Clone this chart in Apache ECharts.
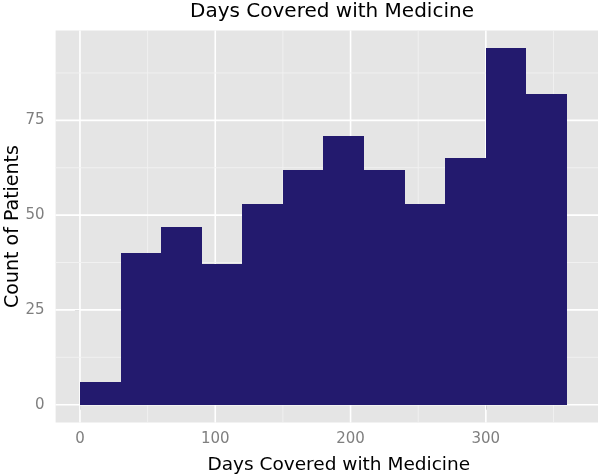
<!DOCTYPE html>
<html>
<head>
<meta charset="utf-8">
<script src="https://cdn.jsdelivr.net/npm/echarts@6.0.0/dist/echarts.min.js"></script>
<style>
    html, body { margin: 0; padding: 0; background: #fff; }
    #main { width: 600px; height: 475px; }
</style>
</head>
<body>
<div id="main"></div>
<script>
// histogram bins (days) and patient counts per bin
const binEdges = [0, 30, 60, 90, 120, 150, 180, 210, 240, 270, 300, 330, 360];
const counts = [6, 40, 47, 37, 53, 62, 71, 62, 53, 65, 94, 82];

// axis ticks and grid lines
const xTicks = [0, 100, 200, 300];
const xMinor = [50, 150, 250, 350];
const yTicks = [0, 25, 50, 75];
const yMinor = [12.5, 37.5, 62.5, 87.5];

const font = 'DejaVu Sans';
const barColor = '#231a6e';

let myChart = echarts.init(document.getElementById('main'), null, { renderer: 'canvas' });

// bars built from bin edges
let barData = counts.map((c, i) => [binEdges[i], binEdges[i + 1], c]);

let vLines = xTicks.map(v => [v, 1]).concat(xMinor.map(v => [v, 0]));
let hLines = yTicks.map(v => [v, 1]).concat(yMinor.map(v => [v, 0]));

function lineStyleFor(major) {
    return major
        ? { stroke: '#ffffff', lineWidth: 1.6 }
        : { stroke: '#f2f2f2', lineWidth: 0.9 };
}

let option = {
    animation: false,
    backgroundColor: '#ffffff',
    title: {
        text: 'Days Covered with Medicine',
        left: 332,
        top: 2,
        padding: 0,
        textAlign: 'center',
        textStyle: { fontFamily: font, fontSize: 20, fontWeight: 'normal', color: '#000' }
    },
    grid: {
        left: 55.6,
        right: 2,
        top: 30.5,
        height: 392,
        containLabel: false,
        outerBoundsMode: 'none',
        show: true,
        backgroundColor: '#e5e5e5',
        borderWidth: 0
    },
    xAxis: {
        type: 'value',
        min: -18,
        max: 382.9,
        name: 'Days Covered with Medicine',
        nameLocation: 'middle',
        nameGap: 33,
        nameMoveOverlap: false,
        nameTextStyle: { fontFamily: font, fontSize: 18.5, color: '#000', padding: [0, 0, 0, 24] },
        axisLine: { show: false },
        axisTick: { show: true, customValues: xTicks, length: 5, lineStyle: { color: '#7f7f7f' } },
        axisLabel: { customValues: xTicks, margin: 9.5, fontFamily: font, fontSize: 15, color: '#7f7f7f' },
        splitLine: { show: false }
    },
    yAxis: {
        type: 'value',
        min: -4.7,
        max: 98.7,
        name: 'Count of Patients',
        nameLocation: 'middle',
        nameGap: 33,
        nameMoveOverlap: false,
        nameTextStyle: { fontFamily: font, fontSize: 19, color: '#000' },
        axisLine: { show: false },
        axisTick: { show: true, customValues: yTicks, length: 5, lineStyle: { color: '#7f7f7f' } },
        axisLabel: { customValues: yTicks, margin: 11, fontFamily: font, fontSize: 15, color: '#7f7f7f' },
        splitLine: { show: false }
    },
    series: [
        {
            type: 'custom',
            name: 'vgrid',
            z: 1,
            silent: true,
            data: vLines,
            renderItem: function (params, api) {
                let cs = params.coordSys;
                let p = api.coord([api.value(0), 0]);
                return {
                    type: 'line',
                    shape: { x1: p[0], y1: cs.y, x2: p[0], y2: cs.y + cs.height },
                    style: lineStyleFor(api.value(1) === 1)
                };
            }
        },
        {
            type: 'custom',
            name: 'hgrid',
            z: 1,
            silent: true,
            data: hLines,
            renderItem: function (params, api) {
                let cs = params.coordSys;
                let p = api.coord([0, api.value(0)]);
                return {
                    type: 'line',
                    shape: { x1: cs.x, y1: p[1], x2: cs.x + cs.width, y2: p[1] },
                    style: lineStyleFor(api.value(1) === 1)
                };
            }
        },
        {
            type: 'custom',
            name: 'Count of Patients',
            z: 3,
            data: barData,
            encode: { x: [0, 1], y: 2 },
            renderItem: function (params, api) {
                // snap to whole pixels so neighbouring bars meet without seams
                let p0 = api.coord([api.value(0), api.value(2)]).map(Math.round);
                let p1 = api.coord([api.value(1), 0]).map(Math.round);
                return {
                    type: 'rect',
                    shape: { x: p0[0], y: p0[1], width: p1[0] - p0[0], height: p1[1] - p0[1] },
                    style: { fill: barColor }
                };
            }
        }
    ]
};

myChart.setOption(option);
</script>
</body>
</html>
